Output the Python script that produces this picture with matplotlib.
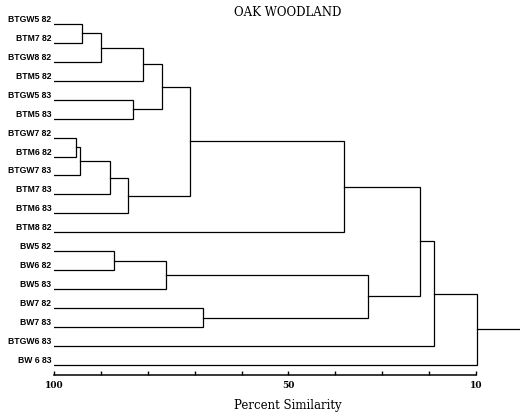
import numpy as np
import matplotlib.pyplot as plt

# leaves, top to bottom
labels = ['BTGW5 82', 'BTM7 82', 'BTGW8 82', 'BTM5 82', 'BTGW5 83', 'BTM5 83',
          'BTGW7 82', 'BTM6 82', 'BTGW7 83', 'BTM7 83', 'BTM6 83', 'BTM8 82',
          'BW5 82', 'BW6 82', 'BW5 83', 'BW7 82', 'BW7 83', 'BTGW6 83', 'BW 6 83']

# merges: (left node, right node, percent similarity); nodes >= len(labels) are earlier merges
merges = [
    (0, 1, 94.0),     # 19
    (19, 2, 90.0),    # 20
    (20, 3, 81.0),    # 21
    (4, 5, 83.1),     # 22
    (21, 22, 76.9),   # 23
    (6, 7, 95.3),     # 24
    (24, 8, 94.4),    # 25
    (25, 9, 88.0),    # 26
    (26, 10, 84.2),   # 27
    (23, 27, 70.9),   # 28
    (28, 11, 38.2),   # 29
    (12, 13, 87.2),   # 30
    (30, 14, 76.1),   # 31
    (15, 16, 68.2),   # 32
    (31, 32, 33.1),   # 33
    (29, 33, 22.0),   # 34
    (34, 17, 19.0),   # 35
    (35, 18, 9.8),    # 36
]
root_end = 0.62

ticks = [100, 90, 80, 70, 60, 50, 40, 30, 20, 10]
tick_labels = ['100', '', '', '', '', '50', '', '', '', '10']

W, H = 520, 418
fig = plt.figure(figsize=(W / 100, H / 100), dpi=100)
ax = fig.add_axes([54 / W, 1 - 375.3 / H, 466 / W, 360.8 / H])

n = len(labels)
pos = {i: (100.0, float(i)) for i in range(n)}
lw = 0.9
for k, (a, b, h) in enumerate(merges):
    xa, ya = pos[a]
    xb, yb = pos[b]
    ax.plot([xa, h, h, xb], [ya, ya, yb, yb], color='black', lw=lw, solid_joinstyle='miter')
    pos[n + k] = (h, (ya + yb) / 2)
xr, yr = pos[n + len(merges) - 1]
ax.plot([xr, root_end], [yr, yr], color='black', lw=lw)

ax.set_xlim(100, root_end)
ax.set_ylim(18.55, -0.5)
for s in ['top', 'right', 'left']:
    ax.spines[s].set_visible(False)
ax.spines['bottom'].set_bounds(100, 10)
ax.spines['bottom'].set_linewidth(1.1)

ax.set_xticks(ticks)
ax.set_xticklabels(tick_labels, fontsize=6.5, family='DejaVu Serif', fontweight='bold')
ax.tick_params(axis='x', direction='in', length=3, width=1, pad=4)

ax.set_yticks(np.arange(n))
ax.set_yticklabels(labels, fontsize=6.2, family='Liberation Sans', fontweight='bold')
ax.tick_params(axis='y', length=0, pad=2)
for t in ax.get_yticklabels():
    t.set_va('bottom')

fig.text(288 / W, 1 - 13 / H, 'OAK WOODLAND', ha='center', va='center',
         fontsize=8.5, family='DejaVu Serif')
fig.text(288 / W, 1 - 406 / H, 'Percent Similarity', ha='center', va='center',
         fontsize=8.5, family='DejaVu Serif')

fig.savefig('out.png', dpi=100)
